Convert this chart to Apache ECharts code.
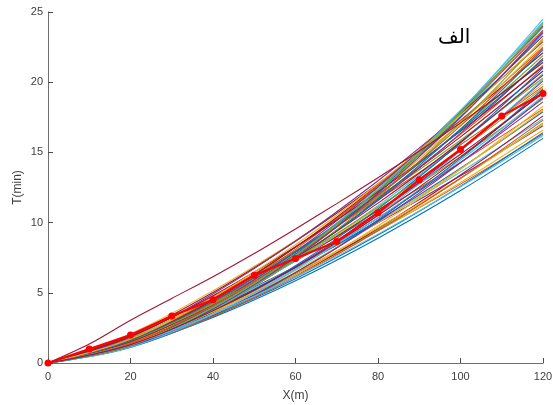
<!DOCTYPE html>
<html>
<head>
<meta charset="utf-8">
<script src="https://cdn.jsdelivr.net/npm/echarts@6/dist/echarts.min.js"></script>
<style>html,body{margin:0;padding:0;background:#fff}#c{width:553px;height:405px}</style>
</head>
<body>
<div id="c"></div>
<script>
// x positions
const xs10 = [0,10,20,30,40,50,60,70,80,90,100,110,120];
const xs20 = [0,20,40,60,80,100,120];
const xTicks = [0,20,40,60,80,100,120];
const yTicks = [0,5,10,15,20,25];

// mean curve (red, with markers)
const meanT = [0,1.0,2.0,3.35,4.5,6.25,7.45,8.65,10.7,13.05,15.2,17.6,19.2];

// isolated upper curve (dark red)
const upperT = [0,1.35,3.05,4.6,6.15,7.8,9.55,11.35,13.2,15.1,17.1,19.2,21.4];

// bundle of simulated curves, values at xs20
const bundleT = [
[0,1.19,3.25,5.86,8.89,12.28,16.0],
[0,1.45,3.70,6.39,9.43,12.74,16.3],
[0,1.35,3.57,6.29,9.41,12.86,16.6],
[0,1.65,4.05,6.86,9.98,13.33,16.9],
[0,1.27,3.48,6.26,9.50,13.13,17.1],
[0,1.55,3.95,6.83,10.06,13.60,17.4],
[0,1.20,3.39,6.22,9.58,13.39,17.6],
[0,1.46,3.84,6.78,10.15,13.87,17.9],
[0,1.76,4.34,7.35,10.68,14.28,18.1],
[0,1.14,3.33,6.25,9.76,13.79,18.3],
[0,1.38,3.78,6.81,10.33,14.28,18.6],
[0,1.68,4.27,7.38,10.87,14.70,18.8],
[0,1.29,3.66,6.72,10.34,14.45,19.0],
[0,1.56,4.12,7.27,10.88,14.87,19.2],
[0,1.11,3.36,6.43,10.19,14.57,19.5],
[0,1.92,4.72,8.00,11.63,15.54,19.7],
[0,1.48,4.05,7.28,11.05,15.28,19.9],
[0,1.25,3.66,6.86,10.72,15.15,20.1],
[0,1.81,4.61,7.96,11.74,15.87,20.3],
[0,1.40,3.97,7.28,11.21,15.67,20.6],
[0,1.69,4.47,7.88,11.79,16.11,20.8],
[0,1.19,3.62,6.93,10.98,15.69,21.0],
[0,1.58,4.31,7.76,11.77,16.28,21.2],
[0,2.09,5.15,8.73,12.69,16.96,21.5],
[0,1.35,3.95,7.41,11.57,16.36,21.7],
[0,1.49,4.22,7.74,11.92,16.66,21.9],
[0,1.24,3.90,7.62,12.24,17.69,23.9],
[0,1.97,5.02,8.67,12.78,17.28,22.1],
[0,1.27,3.84,7.36,11.66,16.66,22.3],
[0,1.67,4.57,8.24,12.50,17.27,22.5],
[0,1.41,4.14,7.75,12.11,17.11,22.7],
[0,1.86,4.92,8.68,12.98,17.74,22.9],
[0,1.20,3.77,7.36,11.83,17.10,23.1],
[0,1.26,3.97,7.74,12.45,17.99,24.3],
[0,1.58,4.49,8.24,12.68,17.72,23.3],
[0,1.34,4.05,7.75,12.28,17.55,23.5],
[0,1.47,4.32,8.09,12.64,17.87,23.7],
[0,1.38,3.65,6.44,9.64,13.17,17.0],
[0,1.37,4.14,7.92,12.54,17.93,24.0],
[0,1.15,3.74,7.45,12.15,17.75,24.2],
[0,1.16,3.79,7.54,12.30,17.97,24.5],
[0,1.53,4.17,7.50,11.39,15.74,20.5],
[0,1.22,3.33,6.00,9.11,12.59,16.4],
[0,1.18,3.33,6.12,9.42,13.16,17.3],
[0,1.34,3.66,6.59,10.00,13.82,18.0],
[0,1.18,3.44,6.45,10.08,14.25,18.9],
[0,1.60,4.21,7.43,11.11,15.18,19.6],
[0,1.15,3.48,6.66,10.56,15.09,20.2],
[0,1.88,4.79,8.28,12.20,16.50,21.1],
[0,1.61,4.39,7.91,12.00,16.58,21.6],
[0,1.39,4.08,7.65,11.95,16.89,22.4],
[0,1.71,4.68,8.42,12.77,17.66,23.0],
[0,1.23,3.85,7.52,12.09,17.47,23.6],
[0,1.25,3.93,7.68,12.34,17.84,24.1],
[0,1.32,3.48,6.14,9.18,12.55,16.2],
[0,1.31,3.72,6.82,10.50,14.68,19.3]
];

const palette = ['#0072BD','#D95319','#EDB120','#7E2F8E','#77AC30','#4DBEEE','#A2142F'];
const labelTxt = 'الف';

const series = [];
bundleT.forEach((row, i) => {
  series.push({
    type: 'line', silent: true, symbol: 'none', smooth: 0.35,
    data: xs20.map((x, j) => [x, row[j]]),
    lineStyle: { width: 1.1, color: palette[i % 7] },
    z: 2
  });
});
series.push({
  type: 'line', silent: true, symbol: 'none', smooth: 0.3,
  data: xs10.map((x, j) => [x, upperT[j]]),
  lineStyle: { width: 1.1, color: '#A2142F' }, z: 2
});
series.push({
  type: 'line', silent: true, symbol: 'circle', symbolSize: 7,
  data: xs10.map((x, j) => [x, meanT[j]]),
  lineStyle: { width: 2.2, color: '#ff0000' },
  itemStyle: { color: '#ff0000' }, z: 5
});

const axisCommon = {
  axisLine: { show: true, lineStyle: { color: '#6f6f6f', width: 1 } },
  axisTick: { show: true, inside: true, length: 5, lineStyle: { color: '#4a4a4a' } },
  splitLine: { show: false },
  axisLabel: { color: '#404040', fontSize: 11, fontFamily: 'Liberation Sans, Arial, sans-serif' },
  nameTextStyle: { color: '#404040', fontSize: 12, fontFamily: 'Liberation Sans, Arial, sans-serif' }
};

const chart = echarts.init(document.getElementById('c'), null, { renderer: 'canvas' });
chart.setOption({
  animation: false,
  backgroundColor: '#fff',
  grid: { left: 48, right: 10, top: 12, bottom: 42, containLabel: false, outerBoundsMode: 'none' },
  xAxis: Object.assign({}, axisCommon, {
    type: 'value', min: xTicks[0], max: xTicks[xTicks.length - 1], interval: 20,
    name: 'X(m)', nameLocation: 'middle', nameGap: 27, nameMoveOverlap: false,
    axisLabel: Object.assign({}, axisCommon.axisLabel, { margin: 8 })
  }),
  yAxis: Object.assign({}, axisCommon, {
    type: 'value', min: yTicks[0], max: yTicks[yTicks.length - 1], interval: 5,
    name: 'T(min)', nameLocation: 'middle', nameGap: 24, nameMoveOverlap: false,
    axisLabel: Object.assign({}, axisCommon.axisLabel, { margin: 5 })
  }),
  graphic: [{
    type: 'text', left: 438, top: 28, z: 10,
    style: { text: labelTxt, fontSize: 20, fill: '#000', fontFamily: 'DejaVu Sans, Noto Sans, sans-serif' }
  }],
  series: series
});
</script>
</body>
</html>
